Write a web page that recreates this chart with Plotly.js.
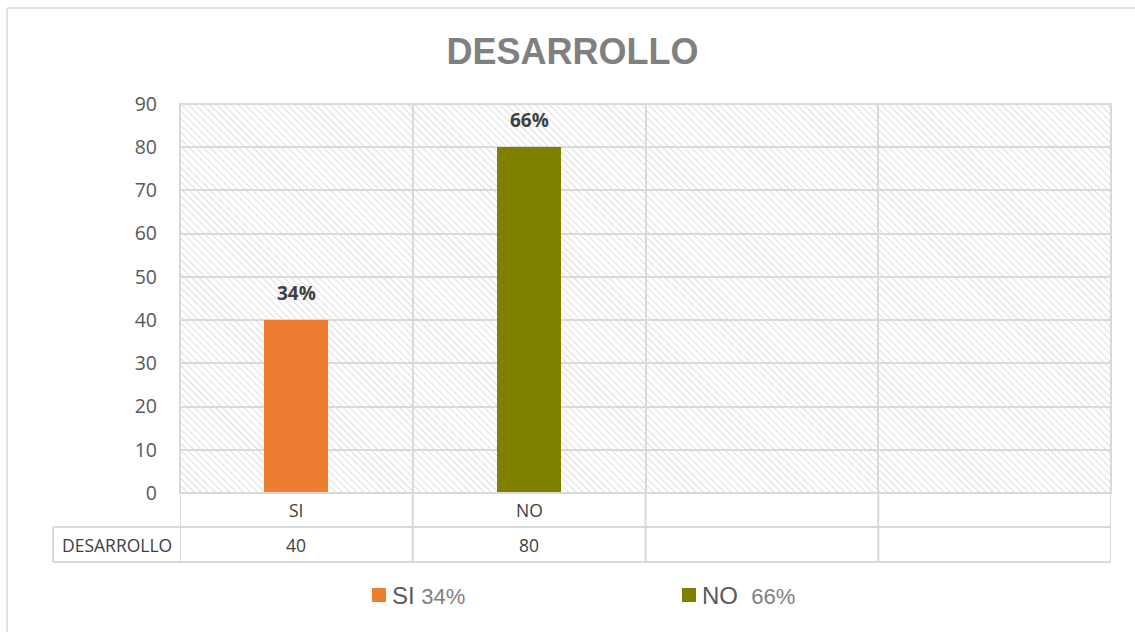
<!DOCTYPE html>
<html>
<head>
<meta charset="utf-8">
<script src="https://cdn.plot.ly/plotly-3.0.1.min.js"></script>
<style>html,body{margin:0;padding:0;background:#fff;}#chart{width:1135px;height:632px;}</style>
</head>
<body>
<div id="chart"></div>
<script>
// ---- data ----
const chartTitle = "DESARROLLO";
const seriesName = "DESARROLLO";
const categories = ["SI", "NO", "", ""];
const values = [40, 80, null, null];
const barLabels = ["34%", "66%", "", ""];
const barColors = ["#ED7D31", "#808000", "#ED7D31", "#808000"];
const legendNames = ["SI", "NO"];
const legendPcts = ["34%", "66%"];
const legendColors = ["#ED7D31", "#808000"];

// ---- layout geometry (pixels) ----
const W = 1135, H = 632;
const L = 180, R = 1111, T = 104, B = 493;
const pw = R - L, ph = B - T;
const px = p => (p - L) / pw;
const py = p => (B - p) / ph;
const idx = categories.map((_, i) => i);

// hatch background (SVG pattern)
const svg = `<svg xmlns="http://www.w3.org/2000/svg" width="${pw}" height="${ph}">` +
  `<defs><pattern id="h" patternUnits="userSpaceOnUse" width="5" height="5" patternTransform="rotate(-45)">` +
  `<line x1="0" y1="0" x2="0" y2="5" stroke="#d4d4d4" stroke-width="1.6"/></pattern></defs>` +
  `<rect width="100%" height="100%" fill="#fff"/><rect width="100%" height="100%" fill="url(#h)"/></svg>`;
const hatchSrc = "data:image/svg+xml;charset=utf-8," + encodeURIComponent(svg);

const gridCol = "#d9d9d9";
const shapes = [];
// outer chart border (top and left edges visible)
shapes.push({type: "line", xref: "paper", yref: "paper", x0: px(7), x1: px(W), y0: py(8), y1: py(8), line: {color: gridCol, width: 1.5}});
shapes.push({type: "line", xref: "paper", yref: "paper", x0: px(7), x1: px(7), y0: py(8), y1: py(H), line: {color: gridCol, width: 1.5}});
// plot border
shapes.push({type: "rect", xref: "paper", yref: "paper", x0: 0, x1: 1, y0: 0, y1: 1, line: {color: gridCol, width: 2}});
// table horizontal lines
shapes.push({type: "line", xref: "paper", yref: "paper", x0: px(53), x1: 1, y0: py(527), y1: py(527), line: {color: gridCol, width: 2}});
shapes.push({type: "line", xref: "paper", yref: "paper", x0: px(53), x1: 1, y0: py(562), y1: py(562), line: {color: gridCol, width: 2}});
shapes.push({type: "line", xref: "paper", yref: "paper", x0: px(53), x1: px(53), y0: py(527), y1: py(562), line: {color: gridCol, width: 2}});
// table vertical lines at category boundaries
for (let i = 0; i <= categories.length; i++) {
  shapes.push({type: "line", xref: "x", yref: "paper", x0: i - 0.5, x1: i - 0.5, y0: py(562), y1: 0, line: {color: gridCol, width: 2}});
}

const annotations = [];
const tableFont = {family: "Open Sans, sans-serif", size: 17.5, color: "#404040"};
categories.forEach((c, i) => {
  if (c) annotations.push({xref: "x", yref: "paper", x: i, y: py(510), text: c, showarrow: false, font: tableFont, xanchor: "center", yanchor: "middle"});
  if (values[i] !== null) annotations.push({xref: "x", yref: "paper", x: i, y: py(545), text: String(values[i]), showarrow: false, font: tableFont, xanchor: "center", yanchor: "middle"});
  if (barLabels[i] && values[i] !== null) annotations.push({xref: "x", yref: "y", x: i, y: values[i], text: "<b>" + barLabels[i] + "</b>", showarrow: false,
    font: {family: "Open Sans, sans-serif", size: 19, color: "#404040"}, xanchor: "center", yanchor: "bottom", yshift: 12});
});
annotations.push({xref: "paper", yref: "paper", x: px(116.5), y: py(545), text: seriesName, showarrow: false, font: tableFont, xanchor: "center", yanchor: "middle"});

// custom legend
const legendX = [372, 682];
legendNames.forEach((n, i) => {
  shapes.push({type: "rect", xref: "paper", yref: "paper", x0: px(legendX[i]), x1: px(legendX[i] + 14), y0: py(602), y1: py(588),
    fillcolor: legendColors[i], line: {width: 0}});
  annotations.push({xref: "paper", yref: "paper", x: px(legendX[i] + 18), y: py(595), xanchor: "left", yanchor: "middle", showarrow: false,
    text: n + (i === 1 ? "&nbsp; " : " ") + '<span style="color:#808080;font-size:22px">' + legendPcts[i] + '</span>',
    font: {family: "Liberation Sans, Arial, sans-serif", size: 24, color: "#595959"}});
});

const trace = {
  type: "bar", x: idx, y: values, width: 0.275, name: seriesName,
  marker: {color: barColors}, hoverinfo: "x+y", showlegend: false
};

const layout = {
  width: W, height: H,
  margin: {l: L, r: W - R, t: T, b: H - B, pad: 0},
  paper_bgcolor: "#ffffff", plot_bgcolor: "rgba(0,0,0,0)",
  title: {text: "<b>" + chartTitle + "</b>", x: 572.5 / W, xref: "container", xanchor: "center", y: 1 - 51 / H, yref: "container", yanchor: "middle",
    font: {family: "Liberation Sans, Arial, sans-serif", size: 36, color: "#808080"}},
  xaxis: {range: [-0.5, categories.length - 0.5], tickmode: "linear", tick0: -0.5, dtick: 1, showticklabels: false,
    showgrid: true, gridcolor: gridCol, gridwidth: 2, zeroline: false, showline: false, ticks: "", fixedrange: true},
  yaxis: {range: [0, 90], dtick: 10, tick0: 0, showgrid: true, gridcolor: gridCol, gridwidth: 2, zeroline: false, showline: false,
    ticks: "", ticklabelstandoff: 22, tickfont: {family: "Open Sans, sans-serif", size: 19.5, color: "#595959"}, fixedrange: true},
  images: [{source: hatchSrc, xref: "paper", yref: "paper", x: 0, y: 1, sizex: 1, sizey: 1, sizing: "stretch", xanchor: "left", yanchor: "top", layer: "below"}],
  shapes: shapes,
  annotations: annotations,
  showlegend: false,
  bargap: 0
};

Plotly.newPlot("chart", [trace], layout, {displayModeBar: false, staticPlot: true});
</script>
</body>
</html>
